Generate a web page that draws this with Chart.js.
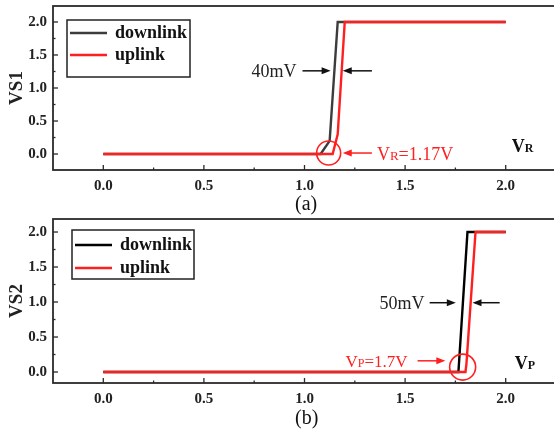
<!DOCTYPE html>
<html>
<head>
<meta charset="utf-8">
<script src="https://cdn.jsdelivr.net/npm/chart.js@4.4.1/dist/chart.umd.min.js"></script>
<style>
  html, body { margin: 0; padding: 0; background: #fff; overflow: hidden; }
  #wrap { position: relative; width: 554px; height: 434px; overflow: hidden; }
  .box { position: absolute; left: 0; width: 558px; }
  .cap { position: absolute; font: 20px "Liberation Serif", "Times New Roman", serif; color: #111; }
</style>
</head>
<body>
<div id="wrap">
  <div class="box" style="top:0;height:213px"><canvas id="chartA"></canvas></div>
  <div class="box" style="top:213px;height:221px"><canvas id="chartB"></canvas></div>
  <div class="cap" style="left:295px;top:192px">(a)</div>
  <div class="cap" style="left:295px;top:406px">(b)</div>
</div>
<script>
// tick labels
const xTicks = [0, 0.5, 1, 1.5, 2];
const yTicks = [0, 0.5, 1, 1.5, 2];

// (a) VS1 vs VR
const downA_x = [0, 1.08, 1.125, 1.165, 2.0];
const downA_y = [0, 0, 0.2, 2, 2];
const upA_x = [0, 1.14, 1.165, 1.2, 2.0];
const upA_y = [0, 0, 0.3, 2, 2];

// (b) VS2 vs VP
const downB_x = [0, 1.765, 1.81, 2.0];
const downB_y = [0, 0, 2, 2];
const upB_x = [0, 1.8, 1.805, 1.85, 2.0];
const upB_y = [0, 0, 0.12, 2, 2];

const SERIF = '"Liberation Serif", "Times New Roman", serif';
const RED = '#ff1f1f';

function pts(xs, ys) {
    return xs.map((x, i) => ({ x: x, y: ys[i] }));
}

// draws text made of pieces with different sizes (for V + small R)
function drawParts(ctx, x, y, parts, color, align, weight) {
    ctx.fillStyle = color;
    ctx.textBaseline = 'alphabetic';
    ctx.textAlign = 'left';
    let total = 0;
    parts.forEach(p => {
        ctx.font = weight + ' ' + p.size + 'px ' + SERIF;
        total += ctx.measureText(p.t).width;
    });
    let cx = align == 'right' ? x - total : x;
    parts.forEach(p => {
        ctx.font = weight + ' ' + p.size + 'px ' + SERIF;
        ctx.fillText(p.t, cx, y + 6);
        cx += ctx.measureText(p.t).width;
    });
}

function arrow(ctx, x1, x2, y, color) {
    let dir = x2 > x1 ? 1 : -1;
    ctx.strokeStyle = color;
    ctx.fillStyle = color;
    ctx.lineWidth = 1.5;
    ctx.beginPath();
    ctx.moveTo(x1, y);
    ctx.lineTo(x2 - dir * 6, y);
    ctx.stroke();
    ctx.beginPath();
    ctx.moveTo(x2, y);
    ctx.lineTo(x2 - dir * 9, y - 3.5);
    ctx.lineTo(x2 - dir * 9, y + 3.5);
    ctx.closePath();
    ctx.fill();
}

const decor = {
    id: 'decor',
    afterDatasetsDraw(chart, args, opts) {
        const ctx = chart.ctx;
        const a = chart.chartArea;
        const xs = chart.scales.x, ys = chart.scales.y;
        ctx.save();

        // frame
        ctx.strokeStyle = '#2a2a2a';
        ctx.lineWidth = 1.8;
        ctx.strokeRect(a.left, a.top, a.right - a.left, a.bottom - a.top);

        // inward ticks, majors every 0.5, minors between
        ctx.lineWidth = 1.3;
        for (let v = 0; v <= 2.001; v += 0.25) {
            let len = Math.abs(v * 2 - Math.round(v * 2)) < 0.01 ? 5 : 2.5;
            let px = xs.getPixelForValue(v);
            ctx.beginPath();
            ctx.moveTo(px, a.bottom);
            ctx.lineTo(px, a.bottom - len);
            ctx.stroke();
            let py = ys.getPixelForValue(v);
            ctx.beginPath();
            ctx.moveTo(a.left, py);
            ctx.lineTo(a.left + len, py);
            ctx.stroke();
        }

        // legend with frame
        const lg = opts.legend;
        const lx = a.left + lg.dx, ly = a.top + lg.dy;
        ctx.strokeStyle = '#222';
        ctx.lineWidth = 1.5;
        ctx.strokeRect(lx, ly, lg.w, lg.h);
        const items = chart.data.datasets.slice().reverse();
        items.forEach((ds, i) => {
            let y = ly + lg.first + i * lg.gap;
            ctx.strokeStyle = ds.borderColor;
            ctx.lineWidth = 2.5;
            ctx.beginPath();
            ctx.moveTo(lx + 3, y);
            ctx.lineTo(lx + 40, y);
            ctx.stroke();
            ctx.fillStyle = '#111';
            ctx.font = 'bold 18px ' + SERIF;
            ctx.textAlign = 'left';
            ctx.textBaseline = 'middle';
            ctx.fillText(ds.label, lx + 48, y);
        });

        // annotations in data coordinates
        opts.notes.forEach(n => {
            if (n.type == 'text') {
                drawParts(ctx, xs.getPixelForValue(n.x), ys.getPixelForValue(n.y), n.parts, n.color, n.align, n.weight || 'normal');
            } else if (n.type == 'arrow') {
                arrow(ctx, xs.getPixelForValue(n.x1), xs.getPixelForValue(n.x2), ys.getPixelForValue(n.y), n.color);
            } else if (n.type == 'circle') {
                ctx.strokeStyle = n.color;
                ctx.lineWidth = 1.6;
                ctx.beginPath();
                ctx.arc(xs.getPixelForValue(n.x), ys.getPixelForValue(n.y), n.r, 0, Math.PI * 2);
                ctx.stroke();
            }
        });
        ctx.restore();
    }
};

function makeChart(id, cfg) {
    return new Chart(document.getElementById(id), {
        type: 'scatter',
        data: {
            datasets: [
                { label: 'uplink', data: pts(cfg.upX, cfg.upY), borderColor: RED, order: 0 },
                { label: 'downlink', data: pts(cfg.downX, cfg.downY), borderColor: cfg.downColor, order: 1 }
            ].map(d => Object.assign(d, { showLine: true, pointRadius: 0, borderWidth: 2.4, fill: false, tension: 0 }))
        },
        options: {
            responsive: true,
            maintainAspectRatio: false,
            animation: false,
            layout: { padding: { top: cfg.padTop, right: 2, left: 0, bottom: 0 } },
            plugins: {
                legend: { display: false },
                tooltip: { enabled: false },
                decor: { legend: cfg.legend, notes: cfg.notes }
            },
            scales: {
                x: {
                    type: 'linear', min: -0.25, max: 2.25,
                    afterBuildTicks: s => { s.ticks = xTicks.map(v => ({ value: v })); },
                    afterFit: s => { s.height = cfg.xHeight; s.paddingLeft = 0; s.paddingRight = 0; },
                    grid: { display: false, drawTicks: false },
                    border: { display: false },
                    ticks: {
                        padding: 7, color: '#222',
                        font: { family: SERIF, size: 15, weight: 'bold' },
                        callback: v => v.toFixed(1)
                    }
                },
                y: {
                    type: 'linear', min: cfg.yMin, max: cfg.yMax,
                    afterBuildTicks: s => { s.ticks = yTicks.map(v => ({ value: v })); },
                    afterFit: s => { s.width = 53; s.paddingTop = 0; s.paddingBottom = 0; },
                    grid: { display: false, drawTicks: false },
                    border: { display: false },
                    title: {
                        display: true, text: cfg.title, color: '#222',
                        padding: { top: 6, bottom: 0 },
                        font: { family: SERIF, size: 19, weight: 'bold' }
                    },
                    ticks: {
                        padding: 6, color: '#222',
                        font: { family: SERIF, size: 15, weight: 'bold' },
                        callback: v => v.toFixed(1)
                    }
                }
            }
        },
        plugins: [decor]
    });
}

makeChart('chartA', {
    title: 'VS1', downColor: '#3c3c3c',
    upX: upA_x, upY: upA_y, downX: downA_x, downY: downA_y,
    yMin: -0.242, yMax: 2.242, padTop: 6, xHeight: 43,
    legend: { dx: 14, dy: 14, w: 123, h: 57, first: 13, gap: 22 },
    notes: [
        { type: 'text', x: 0.96, y: 1.26, align: 'right', color: '#222', parts: [{ t: '40mV', size: 18 }] },
        { type: 'arrow', x1: 0.99, x2: 1.13, y: 1.26, color: '#111' },
        { type: 'arrow', x1: 1.335, x2: 1.19, y: 1.26, color: '#111' },
        { type: 'circle', x: 1.12, y: 0.015, r: 12, color: RED },
        { type: 'arrow', x1: 1.335, x2: 1.19, y: 0.015, color: RED },
        { type: 'text', x: 1.36, y: 0.0, align: 'left', color: RED, parts: [{ t: 'V', size: 18 }, { t: 'R', size: 13 }, { t: '=1.17V', size: 18 }] },
        { type: 'text', x: 2.03, y: 0.12, align: 'left', color: '#111', weight: 'bold', parts: [{ t: 'V', size: 18 }, { t: 'R', size: 12 }] }
    ]
});

makeChart('chartB', {
    title: 'VS2', downColor: '#000',
    upX: upB_x, upY: upB_y, downX: downB_x, downY: downB_y,
    yMin: -0.157, yMax: 2.186, padTop: 6, xHeight: 51,
    legend: { dx: 19, dy: 11, w: 122, h: 49, first: 15, gap: 23 },
    notes: [
        { type: 'text', x: 1.597, y: 0.99, align: 'right', color: '#222', parts: [{ t: '50mV', size: 18 }] },
        { type: 'arrow', x1: 1.622, x2: 1.752, y: 0.99, color: '#111' },
        { type: 'arrow', x1: 1.97, x2: 1.835, y: 0.99, color: '#111' },
        { type: 'circle', x: 1.786, y: 0.07, r: 13, color: RED },
        { type: 'text', x: 1.512, y: 0.16, align: 'right', color: RED, parts: [{ t: 'V', size: 17 }, { t: 'P', size: 12 }, { t: '=1.7V', size: 17 }] },
        { type: 'arrow', x1: 1.562, x2: 1.70, y: 0.16, color: RED },
        { type: 'text', x: 2.045, y: 0.13, align: 'left', color: '#111', weight: 'bold', parts: [{ t: 'V', size: 18 }, { t: 'P', size: 12 }] }
    ]
});
</script>
</body>
</html>
